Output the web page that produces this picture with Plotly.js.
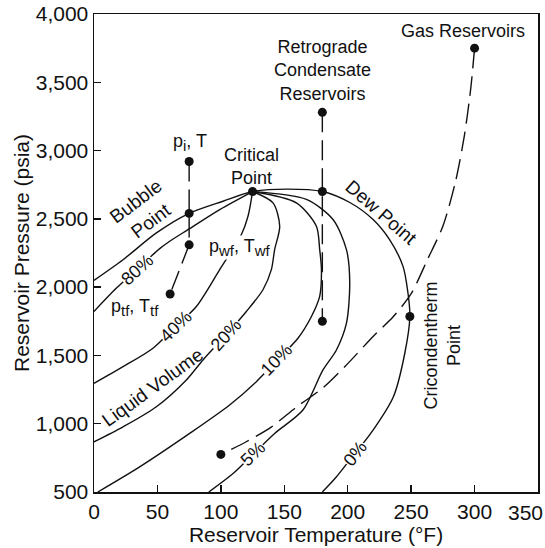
<!DOCTYPE html>
<html>
<head>
<meta charset="utf-8">
<script src="https://cdn.plot.ly/plotly-3.0.1.min.js"></script>
<style>html,body{margin:0;padding:0;background:#fff;}#chart{width:545px;height:548px;}</style>
</head>
<body>
<div id="chart"></div>
<script>
// Phase envelope (bubble point curve + dew point curve / 0% line), temperature in °F, pressure in psia
const envelopeT = [0, 22.9, 49.2, 75, 101.7, 125, 152, 180, 202, 220, 233, 243.6, 247.5, 249, 245, 236, 220, 200, 191, 180];
const envelopeP = [2050, 2201, 2397, 2540, 2629, 2700, 2718, 2700, 2618, 2495, 2348, 2152, 1957, 1785, 1516, 1197, 953, 715, 610, 500];

// Liquid volume quality lines
const q80T = [0, 17.7, 33.7, 51.8, 59.7, 74.1, 99.1, 125];
const q80P = [1822, 1993, 2129, 2282, 2336, 2421, 2568, 2700];

const q40T = [0, 22.9, 46.5, 64.9, 80.7, 99.1, 116.2, 121.4, 125];
const q40P = [1296, 1418, 1553, 1717, 1858, 2128, 2385, 2519, 2700];

const q20T = [0, 22.9, 49.2, 72.8, 85.9, 104, 120.1, 133.2, 139.8, 142.4, 146.4, 141.1, 125];
const q20P = [867, 977, 1124, 1320, 1467, 1650, 1822, 1981, 2128, 2275, 2446, 2617, 2700];

const q10T = [3, 36, 75.4, 106.9, 128, 143.8, 160.8, 171.4, 177.9, 179.3, 177.9, 175.3, 159.5, 125];
const q10P = [500, 684, 929, 1137, 1308, 1461, 1626, 1785, 1932, 2128, 2275, 2446, 2617, 2700];

const q5T = [90.5, 109.6, 125.3, 142.4, 164.7, 180.5, 191.1, 199, 201.6, 199, 188.4, 167.4, 125];
const q5P = [500, 635, 776, 929, 1100, 1394, 1540, 1736, 2030, 2275, 2495, 2642, 2700];

// Reservoir paths (dashed)
const oilVertT = [75, 75];
const oilVertP = [2920, 2310];
const oilTubingT = [75, 60];
const oilTubingP = [2310, 1950];
const retroT = [180, 180];
const retroP = [3280, 1750];
const gasT = [300, 297, 292, 285, 275, 263, 250, 236, 220, 200, 180, 160, 140, 120, 100];
const gasP = [3750, 3456, 3112, 2774, 2446, 2205, 1952, 1785, 1639, 1440, 1259, 1125, 977, 868, 775];

// Marked points
const dotT = [75, 75, 75, 60, 125, 180, 180, 180, 300, 249, 100];
const dotP = [2920, 2540, 2310, 1950, 2700, 3280, 2700, 1750, 3750, 1785, 775];

// Tick values and labels
const xTicks = [0, 50, 100, 150, 200, 250, 300, 350];
const xTickText = ['0', '50', '100', '150', '200', '250', '300', ''];
const xLastTickText = '350';  // drawn pulled in from the page edge, as in the original
const yTicks = [500, 1000, 1500, 2000, 2500, 3000, 3500, 4000];

const FONT = '"Liberation Sans", Arial, Helvetica, sans-serif';
const INK = '#111';

const solid = {color: INK, width: 1.4, shape: 'spline', smoothing: 0.8};
const dashed = {color: INK, width: 1.4, dash: '20px,8px'};

const traces = [
  {x: envelopeT, y: envelopeP, mode: 'lines', line: solid},
  {x: q80T, y: q80P, mode: 'lines', line: solid},
  {x: q40T, y: q40P, mode: 'lines', line: solid},
  {x: q20T, y: q20P, mode: 'lines', line: solid},
  {x: q10T, y: q10P, mode: 'lines', line: solid},
  {x: q5T, y: q5P, mode: 'lines', line: solid},
  {x: oilVertT, y: oilVertP, mode: 'lines', line: dashed},
  {x: oilTubingT, y: oilTubingP, mode: 'lines', line: dashed},
  {x: retroT, y: retroP, mode: 'lines', line: dashed},
  {x: gasT, y: gasP, mode: 'lines', line: Object.assign({}, dashed, {shape: 'spline', smoothing: 0.8})},
  {x: dotT, y: dotP, mode: 'markers', marker: {color: INK, size: 9}, cliponaxis: false}
].map(t => Object.assign({type: 'scatter', hoverinfo: 'skip', showlegend: false}, t));

function lab(text, x, y, extra) {
  return Object.assign({text: text, x: x, y: y, xref: 'x', yref: 'y', showarrow: false,
    font: {family: FONT, size: 18, color: INK}, align: 'center'}, extra || {});
}
const onLine = {bgcolor: '#fff', borderpad: 0};
const sub = s => '<sub><span style="font-size:15px">' + s + '</span></sub>';

const annotations = [
  lab('Gas Reservoirs', 291.2, 3877),
  lab('Retrograde<br>Condensate<br>Reservoirs', 180, 3584),
  lab('p' + sub('i') + ', T', 75.5, 3060),
  lab('Critical<br>Point', 124.5, 2884),
  lab('Bubble<br>Point', 39.3, 2554, {textangle: -37, font: {family: FONT, size: 19, color: INK}}),
  lab('Dew Point', 226.5, 2550, {textangle: 41, font: {family: FONT, size: 19, color: INK}}),
  lab('p' + sub('wf') + ', T' + sub('wf'), 114.9, 2289, onLine),
  lab('p' + sub('tf') + ', T' + sub('tf'), 32.2, 1849),
  lab('Cricondentherm<br>Point', 274.8, 1570, {textangle: -90}),
  lab('Liquid Volume', 45.9, 1265, {textangle: -36, font: {family: FONT, size: 19, color: INK}}),
  lab('80%', 33.7, 2129, Object.assign({textangle: -42}, onLine)),
  lab('40%', 64.9, 1712, Object.assign({textangle: -44}, onLine)),
  lab('20%', 104, 1650, Object.assign({textangle: -48}, onLine)),
  lab('10%', 144, 1463, Object.assign({textangle: -46}, onLine)),
  lab('5%', 125.3, 778, Object.assign({textangle: -44}, onLine)),
  lab('0%', 205.5, 781, Object.assign({textangle: -52}, onLine)),
  {text: xLastTickText, x: xTicks[xTicks.length - 1], xref: 'x', y: 0, yref: 'paper',
    xanchor: 'right', yanchor: 'top', xshift: 7, yshift: -7, showarrow: false,
    font: {family: FONT, size: 21, color: INK}}
];

const axisCommon = {
  showgrid: false, zeroline: false, showline: true, linecolor: INK, linewidth: 1.5, mirror: true,
  ticks: 'inside', ticklen: 7, tickwidth: 1.5, tickcolor: INK,
  tickfont: {family: FONT, size: 21, color: INK}
};

const layout = {
  width: 545, height: 548,
  margin: {l: 94, r: 7, t: 14, b: 56},
  paper_bgcolor: '#fff', plot_bgcolor: '#fff',
  font: {family: FONT, color: INK},
  xaxis: Object.assign({}, axisCommon, {range: [0, 350], tickvals: xTicks, ticktext: xTickText, automargin: false,
    title: {text: 'Reservoir Temperature (°F)', font: {family: FONT, size: 21, color: INK}, standoff: 4}}),
  yaxis: Object.assign({}, axisCommon, {range: [500, 4000], tickvals: yTicks, tickformat: ',', automargin: false,
    title: {text: 'Reservoir Pressure (psia)', font: {family: FONT, size: 21, color: INK}, standoff: 0}}),
  annotations: annotations
};

Plotly.newPlot('chart', traces, layout, {displayModeBar: false, staticPlot: true});
</script>
</body>
</html>
